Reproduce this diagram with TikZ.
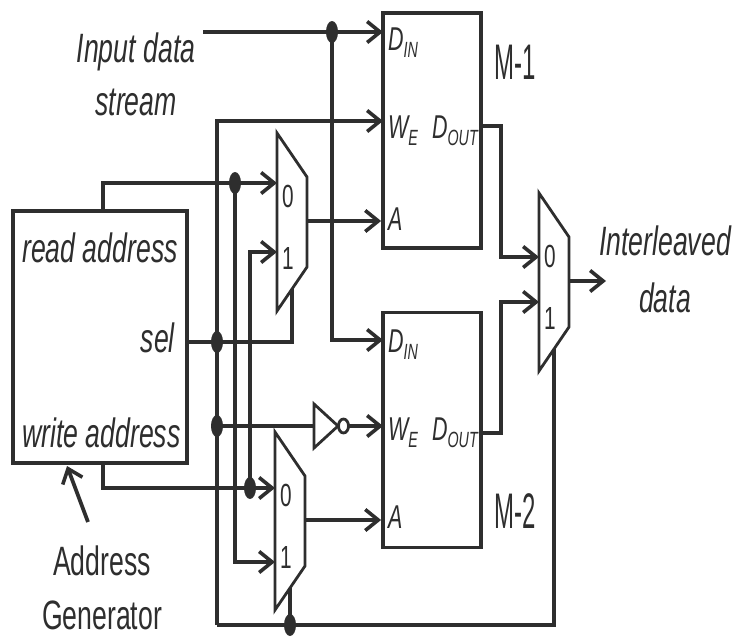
\documentclass[tikz,border=0pt]{standalone}
\usepackage{fontspec}
\setmainfont[FakeStretch=0.65]{Liberation Sans}
\newfontfamily\narrowfont[FakeStretch=0.48]{Liberation Sans}
\usetikzlibrary{arrows.meta}
\definecolor{ink}{HTML}{2E2E2E}
\tikzset{
  wire/.style={draw=ink,line width=3.8pt},
  arr/.style={wire,-{Straight Barb[length=13pt,width=21pt,line width=3.6pt]}},
  membox/.style={draw=ink,line width=3.8pt,minimum width=98pt,minimum height=235pt,inner sep=0pt},
  genbox/.style={membox,minimum width=174pt,minimum height=252pt},
  muxline/.style={draw=ink,line width=2.8pt,line join=miter},
  txt/.style={text=ink,inner sep=0pt,font=\fontsize{41}{49}\selectfont},
  itxt/.style={txt,font=\fontsize{41}{49}\selectfont\itshape},
  pin/.style={text=ink,inner sep=0pt,anchor=base west,font=\fontsize{33}{36}\selectfont\itshape},
  digit/.style={text=ink,inner sep=0pt,font=\fontsize{32}{36}\selectfont},
  mlabel/.style={text=ink,inner sep=0pt,anchor=base west,font=\narrowfont\fontsize{50}{56}\selectfont},
  pics/mux/.style={code={
    \draw[muxline] (0,0) -- (30,44) -- (30,134) -- (0,178) -- cycle;
    \node[digit] (-zero) at (11,63) {0};
    \node[digit] (-one) at (11,125) {1};
    \coordinate (-out) at (30,88);
    \coordinate (-sel) at (15,156);
  }}
}
\newcommand{\pinlbl}[2]{#1\raisebox{-7pt}{\fontsize{22}{24}\selectfont #2}}
\begin{document}
\begin{tikzpicture}[x=1pt,y=-1pt]
\useasboundingbox (0,0) rectangle (732,637);
% blocks
\node[genbox] (agen) at (100,337) {};
\node[membox] (m1) at (432,130.5) {};
\node[membox] (m2) at (432,430) {};
\pic (mux1) at (277,133) {mux};
\pic (mux2) at (275,432) {mux};
\pic (muxo) at (539,193) {mux};
% inverter
\draw[muxline] (314,404) -- (338,426) -- (314,448) -- cycle;
\draw[muxline] (343.5,426) ellipse[x radius=5pt,y radius=7pt];
\coordinate (inv-in) at (314,426);
\coordinate (inv-out) at (349,426);
% texts
\node[itxt,anchor=base] (instr1) at (136,62) {Input data};
\node[itxt,anchor=base] (instr2) at (136,115) {stream};
\node[itxt,anchor=base west] (rdaddr) at (22,262) {read address};
\node[itxt,anchor=base east] (sellbl) at (175,352) {sel};
\node[itxt,anchor=base west] (wraddr) at (22,447) {write address};
\node[txt,anchor=base] (agen1) at (102,575) {Address};
\node[txt,anchor=base] (agen2) at (102,629) {Generator};
\node[itxt,anchor=base] (ileav1) at (665,255) {Interleaved};
\node[itxt,anchor=base] (ileav2) at (665,312) {data};
\node[mlabel] (m1lbl) at (494,79) {M-1};
\node[mlabel] (m2lbl) at (494,528) {M-2};
% pin labels
\node[pin] (m1din) at (388,50) {\pinlbl{D}{IN}};
\node[pin] (m1we) at (388,138) {\pinlbl{W}{E}};
\node[pin,anchor=base east] (m1dout) at (478,138) {\pinlbl{D}{OUT}};
\node[pin] (m1a) at (388,230) {A};
\node[pin] (m2din) at (388,352) {\pinlbl{D}{IN}};
\node[pin] (m2we) at (388,440) {\pinlbl{W}{E}};
\node[pin,anchor=base east] (m2dout) at (478,440) {\pinlbl{D}{OUT}};
\node[pin] (m2a) at (388,528) {A};
% ports and junctions
\coordinate (in-src) at (203,32);
\coordinate (m1-din) at (383,32);
\coordinate (m1-we) at (383,121);
\coordinate (m1-dout) at (481,126);
\coordinate (m2-din) at (383,340);
\coordinate (m2-we) at (383,426);
\coordinate (m2-dout) at (481,433);
\coordinate (rd-out) at (103,211);
\coordinate (wr-out) at (103,463);
\coordinate (mux1-in0) at (277,183);
\coordinate (mux1-in1) at (277,252);
\coordinate (mux2-in0) at (275,488);
\coordinate (mux2-in1) at (275,562);
\coordinate (muxo-in0) at (539,257);
\coordinate (muxo-in1) at (539,302);
\coordinate (j-din) at (332,32);
\coordinate (j-rd) at (235,183);
\coordinate (j-wr) at (250,488);
\coordinate (j-sel) at (217,342);
\coordinate (j-we) at (217,426);
\coordinate (sel-bot) at (217,625);
\coordinate (j-bot) at (mux2-sel |- sel-bot);
\coordinate (ileav-in) at (606,281);
\coordinate (agen-arr) at (88,522);
\coordinate (agen-tip) at (67,466);
% input data
\draw[arr] (in-src) -- (m1-din);
\draw[arr] (j-din) |- (m2-din);
% addresses
\draw[arr] (rd-out) |- (mux1-in0);
\draw[arr] (j-rd) |- (mux2-in1);
\draw[arr] (wr-out) |- (mux2-in0);
\draw[arr] (j-wr) |- (mux1-in1);
\draw[arr] (mux1-out) -- (mux1-out -| m1.west);
\draw[arr] (mux2-out) -- (mux2-out -| m2.west);
% select
\draw[wire] (agen.east |- j-sel) -| (mux1-sel);
\draw[arr] (sel-bot) |- (m1-we);
\draw[wire] (sel-bot) -| (muxo-sel);
\draw[wire] (j-bot) -- (mux2-sel);
\draw[wire] (j-we) -- (inv-in);
\draw[arr] (inv-out) -- (m2-we);
% outputs
\draw[arr] (m1-dout) -- ++(20,0) |- (muxo-in0);
\draw[arr] (m2-dout) -- ++(20,0) |- (muxo-in1);
\draw[arr] (muxo-out) -- (ileav-in);
\draw[arr] (agen-arr) -- (agen-tip);
\foreach \j in {j-din,j-rd,j-wr,j-sel,j-we,j-bot}
  \fill[ink] (\j) ellipse[x radius=6pt,y radius=11pt];
\end{tikzpicture}
\end{document}
